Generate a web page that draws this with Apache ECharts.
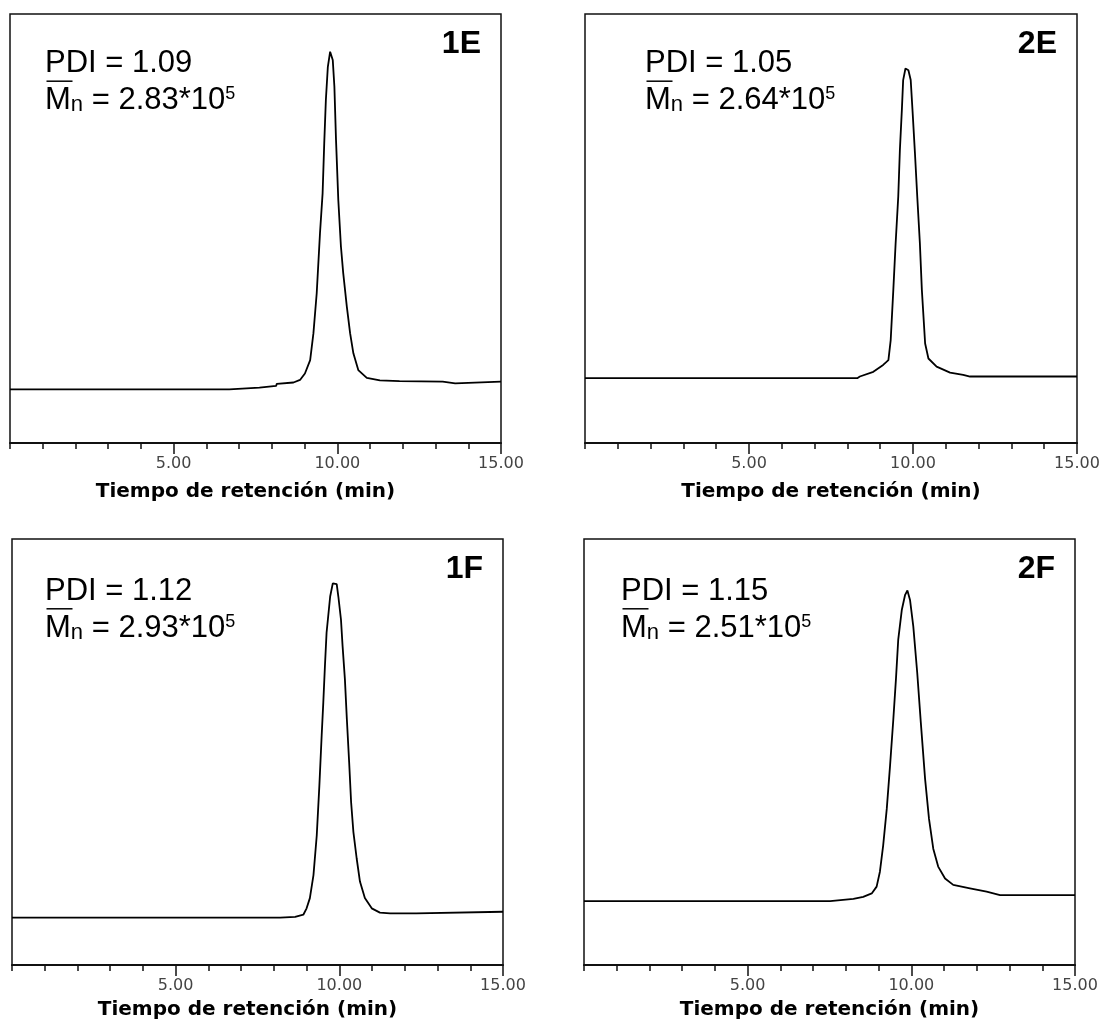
<!DOCTYPE html>
<html><head><meta charset="utf-8">
<script src="https://cdn.jsdelivr.net/npm/echarts@6/dist/echarts.min.js"></script>
<style>html,body{margin:0;padding:0;background:#fff}#c{width:1103px;height:1021px}</style>
</head><body><div id="c"></div><script>
// ---- data (retention time in min, detector signal in arbitrary units 0..100) ----
const time1E = [0, 6.70, 6.72, 7.62, 7.64, 8.13, 8.15, 8.66, 8.86, 9.01, 9.17, 9.27, 9.37, 9.47, 9.55, 9.60, 9.65, 9.71, 9.78, 9.86, 9.91, 9.96, 10.03, 10.11, 10.18, 10.29, 10.39, 10.49, 10.64, 10.90, 11.30, 11.90, 13.22, 13.25, 13.60, 13.62, 15];
const sig1E  = [12.5, 12.5, 12.9, 12.9, 13.3, 13.3, 13.8, 14.1, 14.7, 16.2, 19.3, 25.6, 34.9, 48.9, 58.2, 69.9, 80.0, 87.7, 91.2, 89.3, 83.1, 70.6, 56.6, 45.8, 39.6, 31.8, 25.6, 20.9, 17.0, 15.2, 14.6, 14.4, 14.3, 13.9, 13.9, 14.3, 14.3];

const time2E = [0, 8.30, 8.38, 8.79, 9.09, 9.25, 9.32, 9.40, 9.47, 9.55, 9.60, 9.66, 9.70, 9.77, 9.81, 9.86, 9.93, 9.99, 10.06, 10.13, 10.21, 10.27, 10.37, 10.47, 10.72, 11.13, 11.53, 11.74, 15];
const sig2E  = [15.1, 15.1, 15.5, 16.6, 18.2, 19.3, 24.0, 35.7, 46.5, 57.4, 68.3, 77.6, 84.6, 87.3, 87.7, 86.9, 84.6, 76.9, 67.5, 57.4, 46.5, 35.7, 23.2, 19.7, 17.8, 16.4, 15.9, 15.5, 15.5];

const time1F = [0, 8.19, 8.65, 8.90, 9.00, 9.10, 9.21, 9.31, 9.39, 9.46, 9.51, 9.56, 9.61, 9.72, 9.80, 9.85, 9.92, 9.97, 10.05, 10.10, 10.17, 10.23, 10.30, 10.36, 10.43, 10.53, 10.63, 10.78, 10.99, 11.24, 11.55, 12.35, 12.37, 15];
const sig1F  = [11.1, 11.1, 11.3, 11.8, 13.3, 15.7, 21.1, 30.4, 42.1, 53.8, 61.6, 70.2, 78.0, 86.5, 89.6, 90.0, 89.4, 86.5, 81.1, 74.8, 67.1, 57.7, 47.6, 38.2, 31.2, 25.0, 19.6, 15.7, 13.3, 12.3, 12.1, 12.1, 12.5, 12.5];

const time2F = [0, 7.52, 8.23, 8.53, 8.79, 8.94, 9.04, 9.14, 9.25, 9.35, 9.45, 9.53, 9.60, 9.71, 9.81, 9.88, 9.96, 10.06, 10.18, 10.29, 10.42, 10.54, 10.67, 10.82, 11.03, 11.28, 11.79, 12.30, 12.71, 15];
const sig2F  = [15.0, 15.0, 15.5, 16.0, 16.8, 18.4, 21.9, 28.1, 36.7, 46.8, 57.7, 67.1, 76.4, 83.4, 86.9, 87.9, 85.7, 79.5, 68.6, 56.9, 43.7, 34.3, 27.3, 23.1, 20.3, 18.8, 18.0, 17.2, 16.4, 16.4];

const panelNames = ['1E', '2E', '1F', '2F'];
const pdiValues  = ['1.09', '1.05', '1.12', '1.15'];
const mnValues   = ['2.83', '2.64', '2.93', '2.51'];
const mnExponent = '5';
const axisTitle  = 'Tiempo de retención (min)';
const xMin = 0, xMax = 15, xMinorStep = 1;
const labelTicks = [5, 10, 15];

// ---- layout ----
const layout = [
  {grid:{left:10,  top:14,  width:491, height:429}, textX:45,  base1:74,    base2:110.7, nameGap:39, shift:20},
  {grid:{left:585, top:14,  width:492, height:429}, textX:645, base1:74,    base2:110.7, nameGap:39, shift:0},
  {grid:{left:12,  top:539, width:491, height:428}, textX:45,  base1:601.7, base2:638.3, nameGap:35, shift:20},
  {grid:{left:584, top:539, width:491, height:428}, textX:621, base1:601.7, base2:638.3, nameGap:35, shift:0}
];
const seriesData = [[time1E, sig1E], [time2E, sig2E], [time1F, sig1F], [time2F, sig2F]];

const FONT = '"Liberation Sans", Arial, sans-serif';
const grids = [], xAxes = [], yAxes = [], series = [], graphics = [];

layout.forEach((L, i) => {
  grids.push(Object.assign({show:true, borderColor:'#111', borderWidth:1.5, backgroundColor:'#fff'}, L.grid));
  // short ticks every minute
  xAxes.push({
    gridIndex:i, type:'value', position:'bottom', min:xMin, max:xMax, interval:xMinorStep,
    axisLine:{show:true, onZero:false, lineStyle:{color:'#111', width:2}},
    axisTick:{show:true, length:6, lineStyle:{color:'#111', width:1.5}},
    splitLine:{show:false}, axisLabel:{show:false},
    name: axisTitle, nameLocation:'middle', nameGap:L.nameGap,
    nameTextStyle:{fontFamily:'"DejaVu Sans", sans-serif', fontWeight:'bold', fontSize:20, color:'#000',
      padding:[0, L.shift, 0, 0]}
  });
  // long ticks + labels at 5, 10, 15
  xAxes.push({
    gridIndex:i, type:'value', position:'bottom', min:xMin, max:xMax,
    axisLine:{show:false, onZero:false},
    axisTick:{show:true, length:11, customValues:labelTicks, lineStyle:{color:'#111', width:1.5}},
    splitLine:{show:false},
    axisLabel:{show:true, margin:13, customValues:labelTicks, color:'#444',
      fontFamily:'"DejaVu Sans", sans-serif', fontSize:16, formatter: v => Number(v).toFixed(2)}
  });
  yAxes.push({gridIndex:i, type:'value', min:0, max:100, show:false, splitLine:{show:false}});
  const [tx, ty] = seriesData[i];
  series.push({
    type:'line', xAxisIndex:2 * i, yAxisIndex:i, showSymbol:false, symbol:'none',
    data: tx.map((t, k) => [t, ty[k]]),
    lineStyle:{color:'#000', width:1.8}, animation:false, silent:true
  });
  const g = L.grid;
  // panel label
  graphics.push({type:'text', z:10, style:{text:panelNames[i], x:g.left + g.width - 20, y:g.top + 30,
    font:'bold 32px ' + FONT, fill:'#000', align:'right', verticalAlign:'middle'}});
  // PDI line
  graphics.push({type:'text', z:10, style:{text:'PDI = ' + pdiValues[i], x:L.textX, y:L.base1 - 10.7,
    font:'31px ' + FONT, fill:'#000', align:'left', verticalAlign:'middle'}});
  // Mn line (rich text)
  graphics.push({type:'text', z:10, style:{
    text:'{m|M}{n|n}{m| = ' + mnValues[i] + '*10}{s|' + mnExponent + '}',
    x:L.textX, y:L.base2 - 25.4, align:'left', verticalAlign:'top', fill:'#000',
    rich:{
      m:{fontSize:31, fontFamily:FONT, lineHeight:31, verticalAlign:'bottom', fill:'#000'},
      n:{fontSize:22, fontFamily:FONT, lineHeight:31, verticalAlign:'bottom', fill:'#000'},
      s:{fontSize:18, fontFamily:FONT, lineHeight:31, verticalAlign:'top', fill:'#000'}
    }}});
  // overline on M
  const oy = L.base2 - 29.5;
  graphics.push({type:'line', z:10, shape:{x1:L.textX + 1.5, y1:oy, x2:L.textX + 27.5, y2:oy},
    style:{stroke:'#000', lineWidth:1.5}});
});

const chart = echarts.init(document.getElementById('c'), null, {renderer:'canvas'});
chart.setOption({
  animation:false, backgroundColor:'#fff',
  grid:grids, xAxis:xAxes, yAxis:yAxes, series:series, graphic:graphics
});
</script></body></html>
